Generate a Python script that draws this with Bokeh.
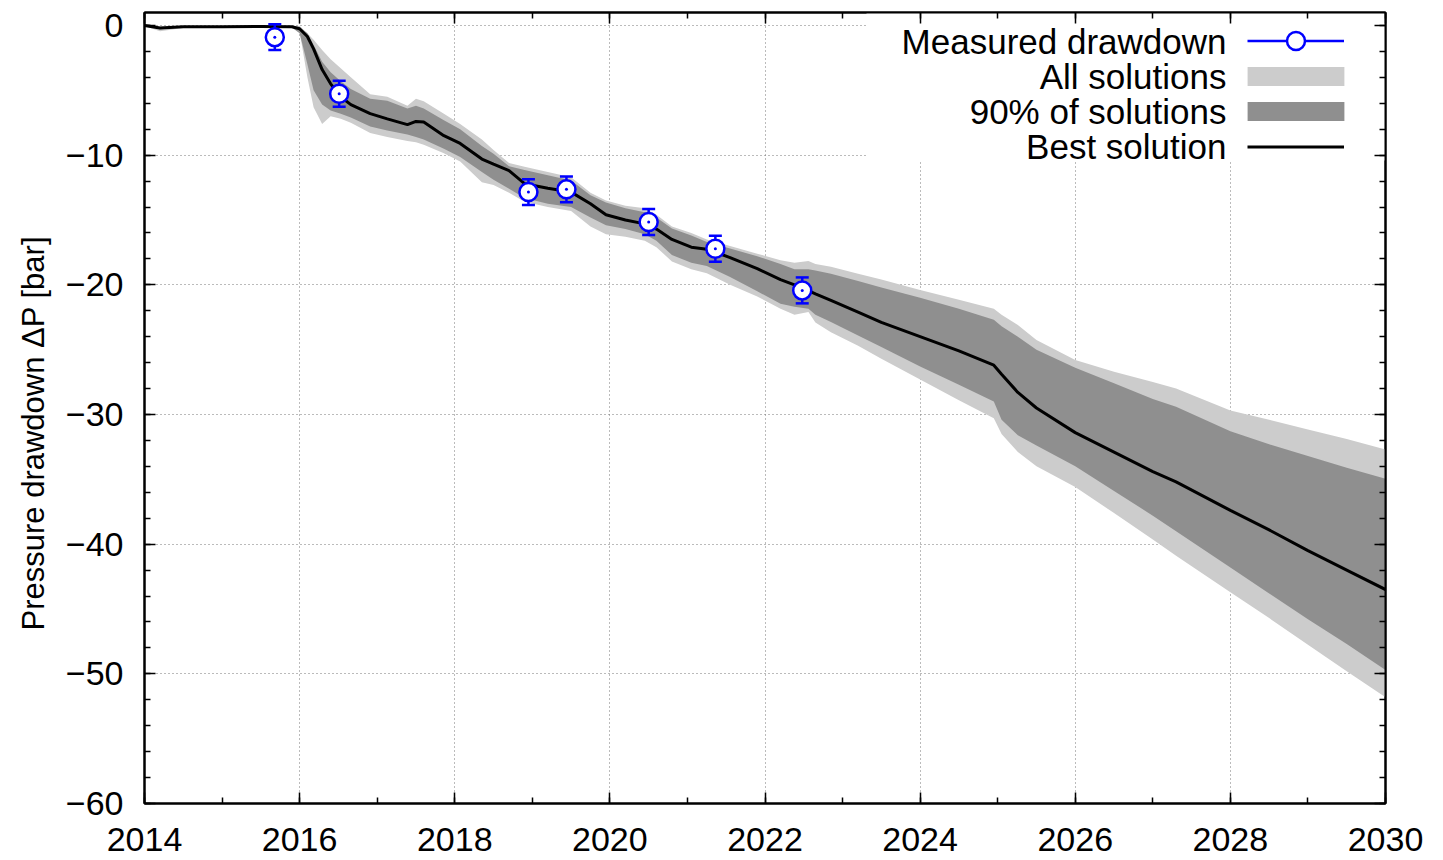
from bokeh.plotting import figure
from bokeh.models import (Range1d, FixedTicker, LinearAxis, Legend, LegendItem,
                          Label, BoxAnnotation, CustomJSTickFormatter, Title)
from bokeh.embed import file_html
from bokeh.resources import INLINE

# ---------------- data ----------------
years = [2014.0, 2014.2, 2014.5, 2015.0, 2015.5, 2015.9, 2016.0, 2016.1, 2016.18, 2016.29,
         2016.4, 2016.53, 2016.66, 2016.91, 2017.13, 2017.39, 2017.5, 2017.6, 2017.86, 2018.07,
         2018.35, 2018.5, 2018.7, 2018.9, 2019.2, 2019.5, 2019.75, 2019.95, 2020.2, 2020.45,
         2020.6, 2020.8, 2021.05, 2021.25, 2021.55, 2021.9, 2022.2, 2022.38, 2022.56, 2022.65,
         2022.85, 2023.2, 2023.5, 2024.0, 2024.5, 2024.95, 2025.05, 2025.26, 2025.5, 2026.0,
         2026.5, 2027.0, 2027.3, 2028.0, 2028.5, 2029.0, 2029.5, 2030.0]

best = [0.0, -0.2, -0.1, -0.1, -0.08, -0.1, -0.25, -0.85, -1.8, -3.4,
        -4.5, -5.5, -6.1, -6.8, -7.2, -7.65, -7.4, -7.45, -8.5, -9.1,
        -10.3, -10.7, -11.2, -12.2, -12.55, -12.85, -13.75, -14.6, -15.0, -15.3,
        -15.7, -16.5, -17.1, -17.25, -17.9, -18.75, -19.6, -20.0, -20.45, -20.7,
        -21.2, -22.1, -22.9, -24.0, -25.1, -26.2, -26.9, -28.3, -29.5, -31.4,
        -32.9, -34.4, -35.2, -37.4, -38.9, -40.5, -42.0, -43.5]

all_upper = [0.0, -0.1, -0.05, -0.05, -0.05, -0.05, -0.05, -0.6, -1.1, -1.9,
             -2.6, -3.3, -4.0, -5.3, -5.5, -6.2, -5.65, -5.85, -6.8, -7.6,
             -8.8, -9.6, -10.6, -10.9, -11.3, -11.7, -12.9, -13.5, -13.9, -14.1,
             -14.6, -15.5, -16.0, -16.5, -17.0, -17.6, -18.1, -18.3, -18.17, -18.4,
             -18.6, -19.15, -19.6, -20.4, -21.15, -21.85, -22.3, -23.1, -24.25, -25.8,
             -26.7, -27.5, -28.0, -29.7, -30.4, -31.15, -31.9, -32.7]

p90_upper = [-0.02, -0.12, -0.07, -0.07, -0.06, -0.07, -0.15, -0.6, -1.5, -2.8,
             -3.6, -4.3, -4.9, -5.65, -5.8, -6.4, -6.2, -6.4, -7.3, -8.0,
             -9.3, -9.9, -10.85, -11.15, -11.55, -11.95, -13.1, -13.65, -14.1, -14.4,
             -14.8, -15.65, -16.2, -16.7, -17.2, -17.8, -18.4, -18.8, -18.8, -18.9,
             -19.15, -19.7, -20.2, -21.0, -21.85, -22.7, -23.2, -24.0, -25.0, -26.4,
             -27.6, -28.8, -29.4, -31.3, -32.3, -33.2, -34.1, -34.95]

p90_lower = [-0.05, -0.3, -0.15, -0.12, -0.12, -0.15, -0.6, -3.0, -5.0, -6.1,
             -6.55, -6.8, -7.1, -7.8, -8.1, -8.4, -8.6, -8.8, -9.5, -10.15,
             -11.3, -11.9, -12.6, -13.3, -13.75, -14.0, -14.8, -15.4, -15.7, -16.1,
             -16.6, -17.7, -18.3, -18.55, -19.4, -20.5, -21.46, -21.7, -21.85, -22.3,
             -22.87, -23.9, -24.8, -26.3, -27.7, -29.0, -30.4, -31.6, -32.4, -34.0,
             -35.9, -37.8, -39.0, -41.8, -43.8, -45.8, -47.7, -49.7]

all_lower = [-0.05, -0.45, -0.2, -0.15, -0.15, -0.18, -0.5, -4.0, -6.3, -7.6,
             -7.0, -7.2, -7.5, -8.3, -8.6, -8.9, -9.0, -9.2, -9.85, -10.5,
             -12.1, -12.3, -12.9, -13.6, -14.0, -14.3, -15.5, -16.1, -16.3, -16.6,
             -17.1, -18.2, -18.8, -19.1, -20.0, -20.9, -21.85, -22.3, -22.1, -22.9,
             -23.65, -24.7, -25.7, -27.3, -28.9, -30.3, -31.5, -32.9, -34.0, -35.6,
             -37.6, -39.65, -40.9, -43.7, -45.7, -47.75, -49.8, -51.8]

meas_x = [2015.68, 2016.51, 2018.95, 2019.44, 2020.50, 2021.36, 2022.48]
meas_y = [-0.9, -5.27, -12.85, -12.64, -15.16, -17.22, -20.43]
meas_err = [1.0, 1.0, 1.0, 1.0, 1.0, 1.0, 1.0]

x_ticks = [2014, 2016, 2018, 2020, 2022, 2024, 2026, 2028, 2030]
x_minor = [2014, 2015, 2016, 2017, 2018, 2019, 2020, 2021, 2022, 2023, 2024, 2025,
           2026, 2027, 2028, 2029, 2030]
x_tick_labels = ["2014", "2016", "2018", "2020", "2022", "2024", "2026", "2028", "2030"]
y_ticks = [-60, -50, -40, -30, -20, -10, 0]
y_minor = [-60, -58, -56, -54, -52, -50, -48, -46, -44, -42, -40, -38, -36, -34, -32,
           -30, -28, -26, -24, -22, -20, -18, -16, -14, -12, -10, -8, -6, -4, -2, 0]
y_tick_labels = ["\u221260", "\u221250", "\u221240", "\u221230", "\u221220", "\u221210", "0"]

legend_labels = ["Measured drawdown", "All solutions", "90% of solutions", "Best solution"]
y_label = "Pressure drawdown \u0394P [bar]"

# ---------------- styles ----------------
FONT = "Liberation Sans"
FS = "34px"
LIGHT = "#cccccc"
DARK = "#8f8f8f"
BLUE = "#0000ff"

p = figure(width=1435, height=860, x_range=Range1d(2014, 2030), y_range=Range1d(-60, 1),
           output_backend="svg", toolbar_location=None,
           min_border_left=144, min_border_right=50, min_border_top=12, min_border_bottom=57)
p.background_fill_color = "white"
p.border_fill_color = "white"
p.outline_line_color = "black"
p.outline_line_width = 2
p.outline_line_alpha = 1

xt = FixedTicker(ticks=x_ticks, minor_ticks=x_minor)
yt = FixedTicker(ticks=y_ticks, minor_ticks=y_minor)

def style_axis(ax, ticker, show_labels):
    ax.ticker = ticker
    ax.axis_line_color = "black"
    ax.axis_line_width = 2
    ax.major_tick_in = 11
    ax.major_tick_out = 0
    ax.minor_tick_in = 6
    ax.minor_tick_out = 0
    ax.major_tick_line_width = 1.5
    ax.minor_tick_line_width = 1.5
    ax.major_tick_line_color = "black"
    ax.minor_tick_line_color = "black"
    if show_labels:
        ax.major_label_text_font = FONT
        ax.major_label_text_font_size = FS
        ax.major_label_text_color = "black"
    else:
        ax.formatter = CustomJSTickFormatter(code="return ''")
        ax.major_label_text_font_size = "1px"
        ax.major_label_standoff = 0

xa = p.xaxis[0]
ya = p.yaxis[0]
style_axis(xa, xt, True)
style_axis(ya, yt, True)
xa.major_label_overrides = {t: s for t, s in zip(x_ticks, x_tick_labels)}
ya.major_label_overrides = {t: s for t, s in zip(y_ticks, y_tick_labels)}
xa.major_label_standoff = 24
ya.major_label_standoff = 21

top_ax = LinearAxis()
right_ax = LinearAxis()
style_axis(top_ax, xt, False)
style_axis(right_ax, yt, False)
p.add_layout(top_ax, "above")
p.add_layout(right_ax, "right")

# y-axis title as a side title, starting a little below the frame centre as in the reference
p.add_layout(Title(text=y_label, align="left", offset=173, standoff=24,
                   text_font=FONT, text_font_size="31px", text_font_style="normal",
                   text_color="black"), "left")

for g, t in ((p.xgrid[0], xt), (p.ygrid[0], yt)):
    g.ticker = t
    g.grid_line_color = "#777777"
    g.grid_line_width = 1
    g.grid_line_dash = "1 3"

# white backdrop behind the key (hides grid lines there)
p.add_layout(BoxAnnotation(left=722, bottom=643, left_units="screen", bottom_units="screen",
                           fill_color="white", fill_alpha=1, line_alpha=0, level="underlay"))

# ---------------- glyphs ----------------
r_all = p.varea(x=years, y1=all_lower, y2=all_upper, fill_color=LIGHT, fill_alpha=1)
r_90 = p.varea(x=years, y1=p90_lower, y2=p90_upper, fill_color=DARK, fill_alpha=1)
r_best = p.line(x=years, y=best, line_color="black", line_width=3)

err_lo = [y - e for y, e in zip(meas_y, meas_err)]
err_hi = [y + e for y, e in zip(meas_y, meas_err)]
r_seg = p.segment(x0=meas_x, y0=err_lo, x1=meas_x, y1=err_hi, line_color=BLUE, line_width=2.5)
p.scatter(x=meas_x, y=err_lo, marker="dash", size=13, line_color=BLUE, line_width=2.5)
p.scatter(x=meas_x, y=err_hi, marker="dash", size=13, line_color=BLUE, line_width=2.5)
r_circ = p.scatter(x=meas_x, y=meas_y, marker="circle", size=18, fill_color="white",
                   line_color=BLUE, line_width=2.5)
p.scatter(x=meas_x, y=meas_y, marker="circle", size=3, fill_color=BLUE, line_alpha=0)

# ---------------- key ----------------
common = dict(padding=0, margin=0, label_standoff=0, label_width=0,
              label_text_font_size="1px", background_fill_alpha=0, border_line_alpha=0)
legend_m = Legend(items=[LegendItem(label=" ", renderers=[r_seg, r_circ])],
                  location=(1103, 740), glyph_width=97, glyph_height=45, label_height=45,
                  spacing=0, **common)
legend_s = Legend(items=[LegendItem(label=" ", renderers=[r_all]),
                         LegendItem(label=" ", renderers=[r_90])],
                  location=(1091, 680), glyph_width=121, glyph_height=24, label_height=24,
                  spacing=11, **common)
legend_b = Legend(items=[LegendItem(label=" ", renderers=[r_best])],
                  location=(1103, 647), glyph_width=97, glyph_height=19, label_height=19,
                  spacing=0, **common)
p.add_layout(legend_m)
p.add_layout(legend_s)
p.add_layout(legend_b)

label_y = [762, 727, 692, 657]
for txt, yy in zip(legend_labels, label_y):
    p.add_layout(Label(x=1082, y=yy, x_units="screen", y_units="screen", text=txt,
                       text_align="right", text_baseline="middle", text_font=FONT,
                       text_font_size="35px", text_color="black"))

open("out.html", "w").write(file_html(p, INLINE))
